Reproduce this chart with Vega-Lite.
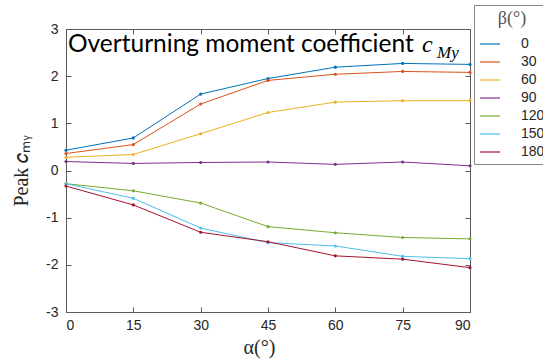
{
  "$schema": "https://vega.github.io/schema/vega-lite/v6.json",
  "width": 404,
  "height": 283,
  "autosize": {"type": "none"},
  "padding": {"left": 66, "top": 29, "right": 73, "bottom": 51},
  "background": "white",
  "config": {
    "view": {"stroke": "#5a5a5a", "strokeWidth": 1},
    "axis": {"grid": false, "domainColor": "#5a5a5a", "tickColor": "#5a5a5a", "labelColor": "#262626", "labelFont": "Liberation Sans", "labelFontSize": 14, "titleFontWeight": "normal", "titleColor": "#262626"}
  },
  "data": {"values": [
    {"alpha": 0, "beta": 0, "cm": 0.43}, {"alpha": 15, "beta": 0, "cm": 0.69}, {"alpha": 30, "beta": 0, "cm": 1.62}, {"alpha": 45, "beta": 0, "cm": 1.95}, {"alpha": 60, "beta": 0, "cm": 2.19}, {"alpha": 75, "beta": 0, "cm": 2.27}, {"alpha": 90, "beta": 0, "cm": 2.25},
    {"alpha": 0, "beta": 30, "cm": 0.36}, {"alpha": 15, "beta": 30, "cm": 0.55}, {"alpha": 30, "beta": 30, "cm": 1.41}, {"alpha": 45, "beta": 30, "cm": 1.91}, {"alpha": 60, "beta": 30, "cm": 2.04}, {"alpha": 75, "beta": 30, "cm": 2.1}, {"alpha": 90, "beta": 30, "cm": 2.08},
    {"alpha": 0, "beta": 60, "cm": 0.28}, {"alpha": 15, "beta": 60, "cm": 0.34}, {"alpha": 30, "beta": 60, "cm": 0.78}, {"alpha": 45, "beta": 60, "cm": 1.23}, {"alpha": 60, "beta": 60, "cm": 1.45}, {"alpha": 75, "beta": 60, "cm": 1.48}, {"alpha": 90, "beta": 60, "cm": 1.48},
    {"alpha": 0, "beta": 90, "cm": 0.19}, {"alpha": 15, "beta": 90, "cm": 0.15}, {"alpha": 30, "beta": 90, "cm": 0.17}, {"alpha": 45, "beta": 90, "cm": 0.18}, {"alpha": 60, "beta": 90, "cm": 0.13}, {"alpha": 75, "beta": 90, "cm": 0.18}, {"alpha": 90, "beta": 90, "cm": 0.1},
    {"alpha": 0, "beta": 120, "cm": -0.28}, {"alpha": 15, "beta": 120, "cm": -0.43}, {"alpha": 30, "beta": 120, "cm": -0.69}, {"alpha": 45, "beta": 120, "cm": -1.19}, {"alpha": 60, "beta": 120, "cm": -1.32}, {"alpha": 75, "beta": 120, "cm": -1.42}, {"alpha": 90, "beta": 120, "cm": -1.45},
    {"alpha": 0, "beta": 150, "cm": -0.28}, {"alpha": 15, "beta": 150, "cm": -0.59}, {"alpha": 30, "beta": 150, "cm": -1.22}, {"alpha": 45, "beta": 150, "cm": -1.53}, {"alpha": 60, "beta": 150, "cm": -1.6}, {"alpha": 75, "beta": 150, "cm": -1.82}, {"alpha": 90, "beta": 150, "cm": -1.87},
    {"alpha": 0, "beta": 180, "cm": -0.33}, {"alpha": 15, "beta": 180, "cm": -0.73}, {"alpha": 30, "beta": 180, "cm": -1.31}, {"alpha": 45, "beta": 180, "cm": -1.51}, {"alpha": 60, "beta": 180, "cm": -1.81}, {"alpha": 75, "beta": 180, "cm": -1.88}, {"alpha": 90, "beta": 180, "cm": -2.06}
  ]},
  "resolve": {"axis": {"x": "independent", "y": "independent"}},
  "layer": [
    {
      "mark": {"type": "line", "strokeWidth": 1},
      "encoding": {
        "x": {"field": "alpha", "type": "quantitative", "scale": {"domain": [0, 90], "nice": false},
              "axis": {"values": [0, 15, 30, 45, 60, 75, 90], "tickSize": -5, "labelPadding": 11, "title": "α(°)", "titleFont": "Liberation Serif", "titleFontSize": 20, "titlePadding": 5, "titleX": 193}},
        "y": {"field": "cm", "type": "quantitative", "scale": {"domain": [-3, 3], "nice": false},
              "axis": {"values": [-3, -2, -1, 0, 1, 2, 3], "tickSize": -5, "labelPadding": 13, "labelExpr": "replace(datum.label, '−', '-')", "title": "Peak 𝑐ₘᵧ", "titleFont": "Liberation Serif", "titleFontSize": 20, "titlePadding": 14}},
        "color": {"field": "beta", "type": "nominal",
                  "scale": {"domain": [0, 30, 60, 90, 120, 150, 180], "range": ["#0072BD", "#D95319", "#EDB120", "#7E2F8E", "#77AC30", "#4DBEEE", "#A2142F"]},
                  "legend": {"orient": "none", "legendX": 408, "legendY": -24, "title": "β(°)", "titleFont": "Liberation Serif", "titleFontSize": 18, "titleFontWeight": "normal", "titleColor": "#555", "titleAnchor": "middle",
                             "labelFont": "Liberation Sans", "labelFontSize": 14, "labelColor": "#262626", "labelOffset": 20, "symbolType": "stroke", "symbolSize": 400, "symbolStrokeWidth": 1.2, "rowPadding": 0,
                             "strokeColor": "#888", "fillColor": "white", "padding": 5}}
      }
    },
    {
      "mark": {"type": "point", "filled": true, "size": 10, "opacity": 1},
      "encoding": {
        "x": {"field": "alpha", "type": "quantitative", "axis": {"orient": "top", "values": [0, 15, 30, 45, 60, 75, 90], "labels": false, "title": null, "tickSize": -5, "domain": false}},
        "y": {"field": "cm", "type": "quantitative", "axis": {"orient": "right", "values": [-3, -2, -1, 0, 1, 2, 3], "labels": false, "title": null, "tickSize": -5, "domain": false}},
        "color": {"field": "beta", "type": "nominal"}
      }
    },
    {
      "data": {"values": [{"t": "Overturning moment coefficient"}]},
      "mark": {"type": "text", "font": "Lato", "fontSize": 24.5, "align": "left", "baseline": "alphabetic", "dx": 2, "dy": 23, "color": "black"},
      "encoding": {"x": {"datum": 0, "type": "quantitative", "axis": null}, "y": {"datum": 3, "type": "quantitative", "axis": null}, "text": {"field": "t"}}
    },
    {
      "data": {"values": [{"t": "c"}]},
      "mark": {"type": "text", "font": "Liberation Serif", "fontStyle": "italic", "fontSize": 24, "align": "left", "baseline": "alphabetic", "dx": 356, "dy": 23, "color": "black"},
      "encoding": {"x": {"datum": 0, "type": "quantitative", "axis": null}, "y": {"datum": 3, "type": "quantitative", "axis": null}, "text": {"field": "t"}}
    },
    {
      "data": {"values": [{"t": "My"}]},
      "mark": {"type": "text", "font": "Liberation Serif", "fontStyle": "italic", "fontSize": 17, "align": "left", "baseline": "alphabetic", "dx": 371, "dy": 29, "color": "black"},
      "encoding": {"x": {"datum": 0, "type": "quantitative", "axis": null}, "y": {"datum": 3, "type": "quantitative", "axis": null}, "text": {"field": "t"}}
    }
  ]
}
